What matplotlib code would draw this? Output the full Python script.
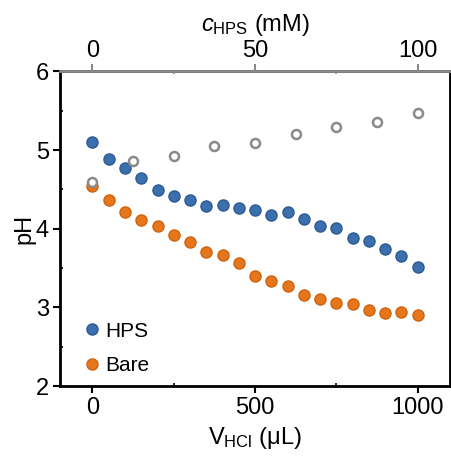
import numpy as np
import matplotlib
matplotlib.use("Agg")
import matplotlib.pyplot as plt
from matplotlib.ticker import MultipleLocator

matplotlib.rc('font', family=['Liberation Sans', 'DejaVu Sans'], size=17)
plt.rcParams['mathtext.fontset'] = 'custom'
plt.rcParams['mathtext.rm'] = 'Liberation Sans'
plt.rcParams['mathtext.it'] = 'Liberation Sans:italic'

# HCl volume (uL)
v_hcl = np.arange(0, 1001, 50)
ph_hps = [5.10, 4.89, 4.77, 4.65, 4.49, 4.41, 4.36, 4.29, 4.30, 4.26, 4.24,
          4.18, 4.21, 4.12, 4.04, 4.01, 3.88, 3.84, 3.74, 3.65, 3.52]
ph_bare = [4.54, 4.37, 4.21, 4.11, 4.04, 3.92, 3.83, 3.71, 3.66, 3.56, 3.40,
           3.33, 3.27, 3.16, 3.11, 3.06, 3.05, 2.97, 2.93, 2.94, 2.91]

# HPS concentration (mM), top axis
c_hps = [0, 12.5, 25, 37.5, 50, 62.5, 75, 87.5, 100]
ph_c = [4.59, 4.86, 4.92, 5.05, 5.09, 5.20, 5.29, 5.36, 5.47]

blue = '#3b6fae'
orange = '#e5761c'
grey = '#8a8a8a'

fig = plt.figure(figsize=(4.51, 4.57), dpi=100)
ax = fig.add_axes([0.133, 0.155, 0.865, 0.689])

ax.plot(v_hcl, ph_hps, 'o', ms=8, mfc=blue, mec='#2d5b94', mew=1.0, label='HPS', zorder=3)
ax.plot(v_hcl, ph_bare, 'o', ms=8, mfc=orange, mec='#cf6410', mew=1.0, label='Bare', zorder=3)

ax.set_xlim(-100, 1100)
ax.set_ylim(2, 6)
ax.xaxis.set_major_locator(MultipleLocator(500))
ax.xaxis.set_minor_locator(MultipleLocator(250))
ax.yaxis.set_major_locator(MultipleLocator(1))
ax.yaxis.set_minor_locator(MultipleLocator(0.5))
ax.tick_params(which='major', direction='out', length=5, width=1.5, pad=3)
ax.tick_params(which='minor', direction='in', length=2, width=1.2)
for s in ax.spines.values():
    s.set_linewidth(2)
ax.set_xlabel(r'V$_{\mathrm{HCl}}$ (μL)', labelpad=4)
ax.set_ylabel('pH', labelpad=0)

leg = ax.legend(loc='lower left', frameon=False, fontsize=15, handletextpad=0.05,
                handlelength=1.2, labelspacing=0.75, borderaxespad=0.3,
                bbox_to_anchor=(0.012, -0.012))

top = ax.twiny()
top.plot(c_hps, ph_c, 'o', ms=6.5, mfc='white', mec=grey, mew=1.8, zorder=4)
top.set_xlim(-10, 110)
top.xaxis.set_major_locator(MultipleLocator(50))
top.xaxis.set_minor_locator(MultipleLocator(25))
top.tick_params(which='major', direction='out', length=5, width=1.5, color=grey, pad=2)
top.tick_params(which='minor', direction='in', length=2, width=1.2, color=grey)
top.spines['top'].set_color(grey)
top.spines['top'].set_linewidth(2)
top.set_xlabel(r'$c_{\mathrm{HPS}}$ (mM)', labelpad=6)

fig.savefig('out.png', dpi=100)
